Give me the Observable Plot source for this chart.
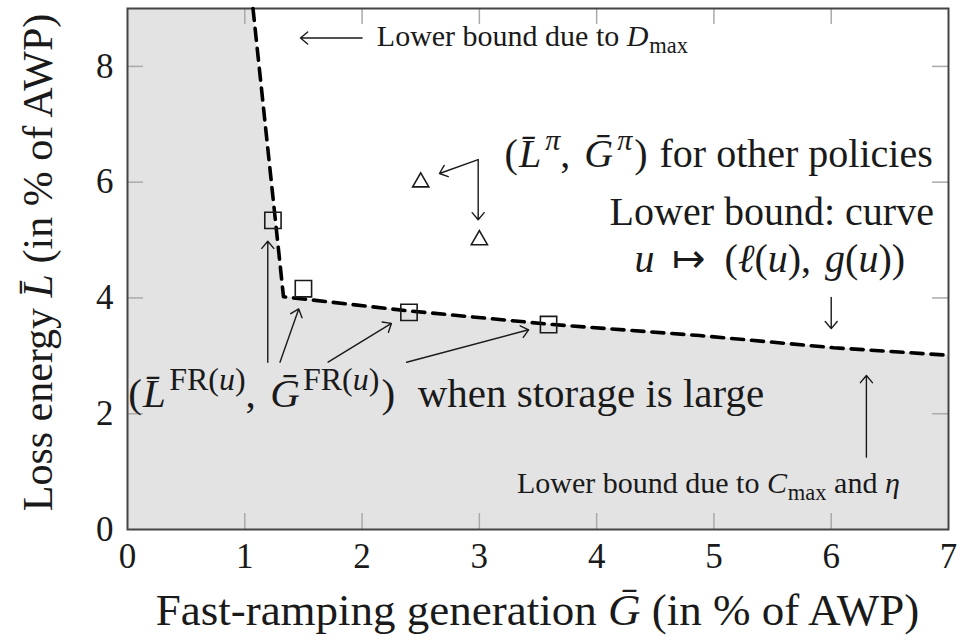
<!DOCTYPE html>
<html>
<head>
<meta charset="utf-8">
<script src="https://cdn.jsdelivr.net/npm/d3@7"></script>
<script src="https://cdn.jsdelivr.net/npm/@observablehq/plot@0.6"></script>
<style>
  body { margin: 0; background: #fff; }
</style>
</head>
<body>
<div id="chart"></div>
<script>
// Lower bound curve u ↦ (g(u), ℓ(u)) in the (Ḡ, L̄) plane
const boundG = [1.07, 1.33, 2.38, 3.63, 4.88, 6.02, 7.0];
const boundL = [9.0, 4.02, 3.78, 3.54, 3.35, 3.14, 3.01];

// (L̄^FR(u), Ḡ^FR(u)) when storage is large
const frG = [1.24, 1.50, 2.40, 3.59];
const frL = [5.34, 4.16, 3.75, 3.54];

// (L̄^π, Ḡ^π) for other policies
const otherG = [2.5, 3.0];
const otherL = [6.0, 5.0];

// Axis ticks
const xTicks = [0, 1, 2, 3, 4, 5, 6, 7];
const yTicks = [0, 2, 4, 6, 8];

// Annotation arrows: start and end points in data units
const arrowStart = [[1.196, 2.89], [1.30, 2.89], [1.71, 2.89], [2.38, 2.89],
                    [2.99, 6.39], [2.99, 6.39], [6.0, 4.01], [6.30, 1.25], [2.0, 8.49]];
const arrowEnd   = [[1.196, 4.98], [1.46, 3.81], [2.25, 3.56], [3.42, 3.45],
                    [2.66, 6.15], [2.99, 5.35], [6.0, 3.47], [6.30, 2.66], [1.475, 8.49]];

const W = 963, H = 642;
const M = {top: 8, right: 15, bottom: 113, left: 127};
const innerW = W - M.left - M.right, innerH = H - M.top - M.bottom;
const TICK = 16;
const SERIF = "Liberation Serif";
const INK = "#1a1a1a";
const SHADE = "#e3e3e3";

const xMax = xTicks[xTicks.length - 1], yMax = 9;
const bound = boundG.map((g, i) => ({g, l: boundL[i]}));
// shaded region: everything left of and below the bound, out to the left edge
const region = [{g: 0, l: yMax}, ...bound];
const fr = frG.map((g, i) => ({g, l: frL[i]}));
const other = otherG.map((g, i) => ({g, l: otherL[i]}));
const arrows = arrowStart.map((s, i) => ({x1: s[0], y1: s[1], x2: arrowEnd[i][0], y2: arrowEnd[i][1]}));

// Text with italic variables, superscripts and subscripts, as tspans.
// Each part is [string, kind, extra space before it in em].
function rich(parts, {x, y, anchor = "start", size = 40, rotate = 0, scriptScale = 0.7}) {
  return (index, scales, values, dims) => {
    const px = typeof x === "function" ? x(dims) : scales.x(x);
    const py = typeof y === "function" ? y(dims) : scales.y(y);
    const t = d3.create("svg:text")
      .attr("transform", `translate(${px},${py}) rotate(${rotate})`)
      .attr("text-anchor", anchor)
      .attr("xml:space", "preserve")
      .style("white-space", "pre")
      .style("font-family", SERIF)
      .style("font-size", size + "px")
      .attr("fill", INK);
    let shift = 0;
    for (const [s, k = "", gap = 0] of parts) {
      const sup = k.startsWith("sup"), sub = k.startsWith("sub");
      const target = sup ? -0.42 * size : sub ? 0.22 * size : 0;
      t.append("tspan")
        .attr("dx", gap * size)
        .attr("dy", target - shift)
        .style("font-family", SERIF)
        .style("font-size", (sup || sub ? size * scriptScale : size) + "px")
        .style("font-style", k.endsWith("i") ? "italic" : "normal")
        .text(s);
      shift = target;
    }
    return t.node();
  };
}

const Lbar = "L\u0304", Gbar = "G\u0304";

const chart = Plot.plot({
  width: W, height: H,
  marginTop: M.top, marginRight: M.right, marginBottom: M.bottom, marginLeft: M.left,
  x: {domain: [0, xMax], axis: null},
  y: {domain: [0, yMax], axis: null},
  style: {background: "#fff", fontFamily: SERIF},
  marks: [
    Plot.areaY(region, {x: "g", y: "l", fill: SHADE}),

    // inward ticks on all four sides
    Plot.ruleX(xTicks.slice(1, -1), {x: d => d, insetTop: innerH - TICK, stroke: "#aaa", strokeWidth: 1.5}),
    Plot.ruleX(xTicks.slice(1, -1), {x: d => d, insetBottom: innerH - TICK, stroke: "#aaa", strokeWidth: 1.5}),
    Plot.ruleY(yTicks.slice(1), {y: d => d, insetRight: innerW - TICK, stroke: "#aaa", strokeWidth: 1.5}),
    Plot.ruleY(yTicks.slice(1), {y: d => d, insetLeft: innerW - TICK, stroke: "#aaa", strokeWidth: 1.5}),

    Plot.frame({stroke: "#444", strokeWidth: 2}),

    // tick labels
    Plot.text(xTicks, {x: d => d, y: 0, dy: 27, text: d => String(d), fontSize: 35, fill: INK}),
    Plot.text(yTicks, {x: 0, y: d => d, dx: -14, textAnchor: "end", text: d => String(d), fontSize: 35, fill: INK}),

    // lower bound curve
    Plot.line(bound, {x: "g", y: "l", stroke: "#000", strokeWidth: 3.6, strokeDasharray: "12,8"}),

    // policy points
    Plot.dot(fr, {x: "g", y: "l", symbol: "square", r: 9.2, stroke: INK, strokeWidth: 1.6, fill: "none"}),
    Plot.dot(other, {x: "g", y: "l", symbol: "triangle", r: 6, stroke: INK, strokeWidth: 1.6, fill: "none"}),

    // annotation arrows
    Plot.arrow(arrows, {x1: "x1", y1: "y1", x2: "x2", y2: "y2", stroke: INK, strokeWidth: 1.4, headLength: 10, headAngle: 80}),

    // annotations
    rich([["Lower bound due to "], ["D", "i"], ["max", "sub", 0.03]], {x: 2.13, y: 8.34, size: 30, scriptScale: 0.75}),
    rich([["("], [Lbar, "i", 0.03], ["π", "supi", 0.1], [","], [Gbar, "i", 0.35], ["π", "supi", 0.1], [")", "", 0.05], [" for other policies", "", 0.05]],
         {x: 6.87, y: 6.25, anchor: "end", size: 40, scriptScale: 0.75}),
    rich([["Lower bound: curve"]], {x: 6.88, y: 5.25, anchor: "end", size: 40}),
    rich([["u", "i"], [" ↦ ", "", 0.2], ["(", "", 0.2], ["ℓ", "i"], ["("], ["u", "i"], ["),"], ["g", "i", 0.35], ["("], ["u", "i"], ["))"]],
         {x: 5.48, y: 4.44, anchor: "middle", size: 40}),
    rich([["("], [Lbar, "i", 0.03], ["FR(", "sup", 0.08], ["u", "supi"], [")", "sup"], [","],
          [Gbar, "i", 0.35], ["FR(", "sup", 0.08], ["u", "supi"], [")", "sup"], [")", "", 0.05], [" when storage is large", "", 0.3]],
         {x: 0.01, y: 2.11, size: 41, scriptScale: 0.78}),
    rich([["Lower bound due to "], ["C", "i"], ["max", "sub", 0.03], [" and "], ["η", "i"]],
         {x: 3.325, y: 0.62, size: 30, scriptScale: 0.75}),

    // axis titles
    rich([["Fast-ramping generation "], [Gbar, "i"], [" (in % of AWP)"]],
         {x: d => (d.marginLeft + d.width - d.marginRight) / 2, y: d => d.height - 17, anchor: "middle", size: 45}),
    rich([["Loss energy "], [Lbar, "i"], [" (in % of AWP)"]],
         {x: d => 52, y: d => (d.marginTop + d.height - d.marginBottom) / 2 - 6, anchor: "middle", size: 42, rotate: -90})
  ]
});

document.getElementById("chart").appendChild(chart);
</script>
</body>
</html>
